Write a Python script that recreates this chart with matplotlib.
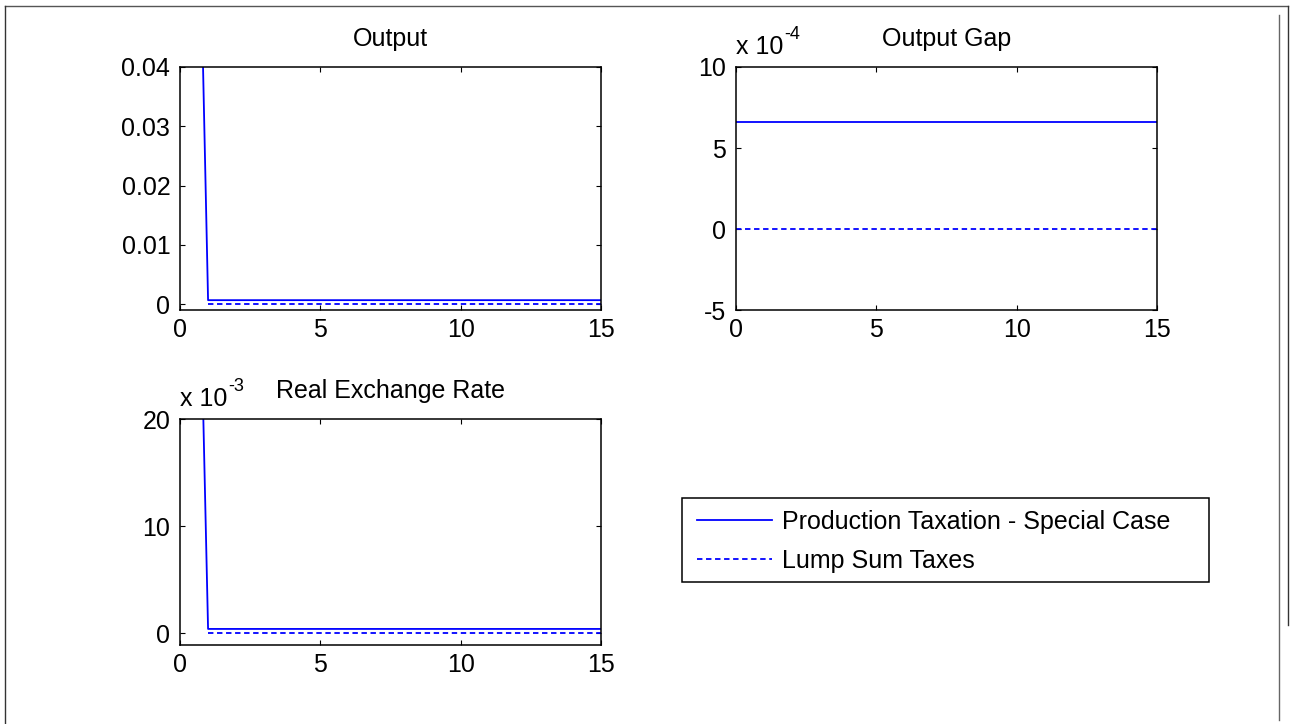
import numpy as np
import matplotlib
matplotlib.use('Agg')
import matplotlib.pyplot as plt
from matplotlib.lines import Line2D
from matplotlib.patches import Rectangle
from matplotlib.ticker import FuncFormatter

plt.rcParams['font.family'] = ['Liberation Sans', 'DejaVu Sans']
plt.rcParams['font.size'] = 18

# periods 0..15
t = np.arange(0, 16)

# output: production taxation special case vs lump sum
output_prod = [0.22] + [0.00066] * 15
output_lump = [np.nan] + [0.0] * 15

# output gap (constant)
gap_prod = [6.6e-4] * 16
gap_lump = [0.0] * 16

# real exchange rate
rer_prod = [0.117] + [0.0004] * 15
rer_lump = [np.nan] + [0.0] * 15

titles = ['Output', 'Output Gap', 'Real Exchange Rate']
legend_labels = ['Production Taxation - Special Case', 'Lump Sum Taxes']

W, H = 1295, 724
fig = plt.figure(figsize=(W / 100, H / 100), dpi=100)


def px_axes(left, top, right, bottom):
    return fig.add_axes([left / W, 1 - bottom / H, (right - left) / W, (bottom - top) / H])


def style(ax):
    ax.tick_params(direction='in', length=3.6, width=0.8, top=True, right=True,
                   pad=7, colors='black')
    ax.tick_params(axis='x', pad=6)
    for s in ax.spines.values():
        s.set_linewidth(1.1)
        s.set_color('black')
    ax.set_xlim(0, 15)
    ax.set_xticks([0, 5, 10, 15])


def exponent(ax, power, ax_h):
    # MATLAB-style "x 10^-n" label over the top-left corner
    base = 1 + 13 / ax_h
    txt = ax.text(0.0, base, 'x 10', transform=ax.transAxes, ha='left', va='baseline')
    fig.canvas.draw()
    bb = txt.get_window_extent().transformed(ax.transAxes.inverted())
    ax.text(bb.x1 + 1 / 421, base + 15 / ax_h, '-%d' % power, transform=ax.transAxes,
            ha='left', va='baseline', fontsize=13)


blue = '#0000ff'
dash = (0, (3, 2))

ax1 = px_axes(180, 67, 601, 310)
ax1.plot(t, output_prod, color=blue, lw=1.3)
ax1.plot(t, output_lump, color=blue, lw=1.3, ls=dash)
ax1.set_ylim(-0.001, 0.04)
ax1.set_yticks([0, 0.01, 0.02, 0.03, 0.04])
ax1.yaxis.set_major_formatter(FuncFormatter(lambda v, p: '0' if abs(v) < 1e-12 else '%g' % v))
ax1.set_title(titles[0], fontsize=18, pad=15)
style(ax1)

ax2 = px_axes(736, 67, 1157, 310)
ax2.plot(t, gap_prod, color=blue, lw=1.3)
ax2.plot(t, gap_lump, color=blue, lw=1.3, ls=dash)
ax2.set_ylim(-5e-4, 10e-4)
ax2.set_yticks([-5e-4, 0, 5e-4, 10e-4])
ax2.yaxis.set_major_formatter(FuncFormatter(lambda v, p: '%g' % round(v * 1e4, 6)))
ax2.set_title(titles[1], fontsize=18, pad=15)
style(ax2)
exponent(ax2, 4, 243)

ax3 = px_axes(180, 419, 601, 645)
ax3.plot(t, rer_prod, color=blue, lw=1.3)
ax3.plot(t, rer_lump, color=blue, lw=1.3, ls=dash)
ax3.set_ylim(-1.1e-3, 20e-3)
ax3.set_yticks([0, 10e-3, 20e-3])
ax3.yaxis.set_major_formatter(FuncFormatter(lambda v, p: '%g' % round(v * 1e3, 6)))
ax3.set_title(titles[2], fontsize=18, pad=15)
style(ax3)
exponent(ax3, 3, 226)

# legend with a hand-drawn frame
handles = [Line2D([], [], color=blue, lw=1.3),
           Line2D([], [], color=blue, lw=1.3, ls=dash)]
fig.legend(handles, legend_labels, loc='upper left',
           bbox_to_anchor=(697 / W, 1 - 510 / H), frameon=False,
           handlelength=3.0, handletextpad=0.4, labelspacing=0.6,
           borderpad=0, borderaxespad=0, fontsize=18)
fig.add_artist(Rectangle((682 / W, 1 - 582 / H), (1209 - 682) / W, (582 - 498) / H,
                         transform=fig.transFigure, fill=False, edgecolor='black', lw=1.1))


# window border lines
def fig_line(x0, y0, x1, y1, color, lw=1.0):
    fig.add_artist(Line2D([x0 / W, x1 / W], [1 - y0 / H, 1 - y1 / H],
                          transform=fig.transFigure, color=color, lw=lw))


fig_line(5, 6, 1288, 6, '#555555')
fig_line(5, 6, 5, 724, '#333333')
fig_line(1279, 15, 1279, 720, '#666666')
fig_line(1288, 6, 1288, 625, '#333333')

fig.savefig('out.png', dpi=100)
